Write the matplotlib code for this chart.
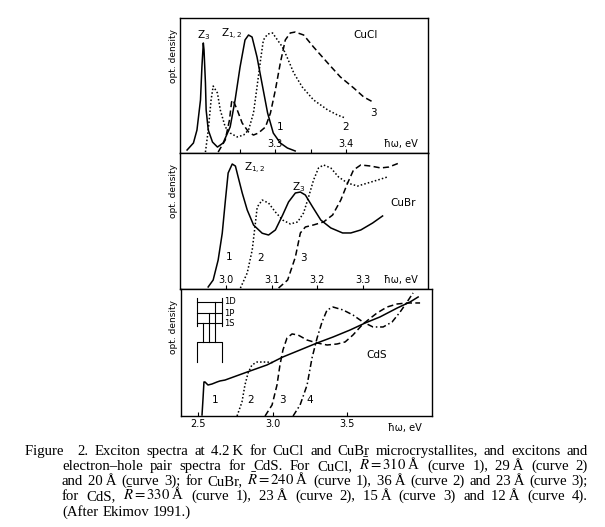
import numpy as np
import matplotlib.pyplot as plt

# ========== DATA ==========
# CuCl, curves 1-3
cucl_x1 = [3.175, 3.184, 3.189, 3.194, 3.196, 3.198, 3.199, 3.201, 3.202, 3.205, 3.211, 3.218, 3.226,
           3.236, 3.243, 3.250, 3.257, 3.262, 3.267, 3.274, 3.282, 3.289, 3.297, 3.307, 3.317, 3.328]
cucl_y1 = [0.022, 0.074, 0.170, 0.393, 0.637, 0.815, 0.763, 0.519, 0.319, 0.170, 0.081, 0.044, 0.074,
           0.193, 0.393, 0.637, 0.837, 0.874, 0.859, 0.711, 0.489, 0.296, 0.148, 0.074, 0.037, 0.015]
cucl_x2 = [3.201, 3.205, 3.209, 3.212, 3.218, 3.222, 3.229, 3.236, 3.246, 3.255, 3.262, 3.269, 3.274,
           3.279, 3.283, 3.289, 3.296, 3.303, 3.310, 3.317, 3.326, 3.338, 3.354, 3.374, 3.388, 3.399]
cucl_y2 = [0.007, 0.170, 0.393, 0.496, 0.444, 0.319, 0.193, 0.148, 0.119, 0.133, 0.170, 0.296, 0.489,
           0.689, 0.837, 0.881, 0.889, 0.837, 0.785, 0.704, 0.593, 0.489, 0.393, 0.319, 0.281, 0.259]
cucl_x3 = [3.219, 3.229, 3.235, 3.238, 3.240, 3.246, 3.253, 3.262, 3.269, 3.276, 3.286, 3.293,
           3.300, 3.307, 3.314, 3.321, 3.328, 3.340, 3.354, 3.374, 3.392, 3.411, 3.425, 3.438]
cucl_y3 = [0.007, 0.096, 0.244, 0.378, 0.393, 0.319, 0.222, 0.156, 0.133, 0.148, 0.193, 0.296,
           0.467, 0.667, 0.837, 0.889, 0.896, 0.874, 0.785, 0.667, 0.563, 0.481, 0.415, 0.378]

# CuBr, curves 1-3
cubr_x1 = [2.960, 2.971, 2.982, 2.991, 2.998, 3.004, 3.013, 3.020, 3.026, 3.035, 3.046, 3.060, 3.079, 3.093,
           3.108, 3.124, 3.137, 3.152, 3.163, 3.174, 3.190, 3.208, 3.230, 3.256, 3.274, 3.296, 3.322, 3.344]
cubr_y1 = [0.015, 0.066, 0.213, 0.410, 0.654, 0.853, 0.919, 0.904, 0.824, 0.706, 0.581, 0.470, 0.410, 0.397,
           0.434, 0.544, 0.640, 0.706, 0.713, 0.691, 0.603, 0.507, 0.449, 0.412, 0.412, 0.434, 0.485, 0.537]
cubr_x2 = [3.031, 3.046, 3.057, 3.064, 3.068, 3.079, 3.093, 3.108, 3.124, 3.141, 3.157, 3.170,
           3.181, 3.192, 3.203, 3.214, 3.230, 3.247, 3.267, 3.289, 3.311, 3.333, 3.355]
cubr_y2 = [0.007, 0.118, 0.287, 0.485, 0.603, 0.654, 0.632, 0.566, 0.507, 0.478, 0.493, 0.559,
           0.676, 0.801, 0.890, 0.912, 0.890, 0.824, 0.779, 0.757, 0.779, 0.801, 0.824]
cubr_x3 = [3.115, 3.135, 3.152, 3.163, 3.174, 3.192, 3.214, 3.234, 3.252, 3.267, 3.280, 3.296,
           3.318, 3.340, 3.358, 3.380]
cubr_y3 = [0.007, 0.066, 0.235, 0.412, 0.456, 0.471, 0.493, 0.544, 0.654, 0.779, 0.875, 0.912,
           0.904, 0.890, 0.897, 0.926]

# CdS, curves 1-4
cds_x1 = [2.527, 2.534, 2.540, 2.547, 2.567, 2.594, 2.628, 2.648, 2.681, 2.829, 2.963,
          3.070, 3.185, 3.299, 3.406, 3.520, 3.621, 3.721, 3.836, 3.923, 3.977]
cds_y1 = [0.008, 0.142, 0.268, 0.268, 0.244, 0.252, 0.268, 0.276, 0.283, 0.346, 0.402,
          0.465, 0.520, 0.575, 0.622, 0.677, 0.732, 0.780, 0.850, 0.898, 0.937]
cds_x2 = [2.762, 2.795, 2.815, 2.836, 2.862, 2.896, 2.963, 3.003]
cds_y2 = [0.000, 0.110, 0.244, 0.339, 0.402, 0.425, 0.425, 0.420]
cds_x3 = [2.950, 2.997, 3.030, 3.050, 3.070, 3.097, 3.131, 3.171, 3.232, 3.299, 3.366,
          3.433, 3.487, 3.540, 3.601, 3.641, 3.701, 3.768, 3.836, 3.903, 3.990]
cds_y3 = [0.000, 0.087, 0.244, 0.402, 0.520, 0.614, 0.646, 0.638, 0.598, 0.575, 0.559,
          0.567, 0.583, 0.638, 0.717, 0.756, 0.811, 0.858, 0.882, 0.890, 0.890]
cds_x4 = [3.138, 3.185, 3.232, 3.265, 3.299, 3.332, 3.366, 3.406, 3.473, 3.540, 3.607,
          3.674, 3.742, 3.802, 3.856, 3.903, 3.943]
cds_y4 = [0.000, 0.087, 0.244, 0.457, 0.614, 0.740, 0.835, 0.858, 0.835, 0.795, 0.740,
          0.701, 0.701, 0.740, 0.819, 0.898, 0.969]

cucl_ticks = [3.25, 3.3, 3.35, 3.4]
cucl_ticklabels = ["", "3.3", "", "3.4"]
cubr_ticks = [3.0, 3.1, 3.2, 3.3]
cubr_ticklabels = ["3.0", "3.1", "3.2", "3.3"]
cds_ticks = [2.5, 3.0, 3.5]
cds_ticklabels = ["2.5", "3.0", "3.5"]

caption_lines = [
    "Figure\u2002 2. Exciton spectra at 4.2\u2009K for CuCl and CuBr microcrystallites, and excitons and",
    "electron\u2013hole pair spectra for CdS. For CuCl, $\\bar{R}=310$\u2009Å (curve 1), 29\u2009Å (curve 2)",
    "and 20\u2009Å (curve 3); for CuBr, $\\bar{R}=240$\u2009Å (curve 1), 36\u2009Å (curve 2) and 23\u2009Å (curve 3);",
    "for CdS, $\\bar{R}=330$\u2009Å (curve 1), 23\u2009Å (curve 2), 15\u2009Å (curve 3) and 12\u2009Å (curve 4).",
    "(After Ekimov 1991.)",
]

# ========== STYLE ==========
plt.rcParams['font.family'] = ['DejaVu Sans']
plt.rcParams['mathtext.fontset'] = 'stix'
LW = 1.1
SOLID = '-'
DOT = (0, (1, 1.4))
DASH = (0, (4, 2.2))
DASHDOT = (0, (4, 1.8, 1, 1.8))
FS = 7.5
W, H = 605, 527


def panel(top, bottom, left=180, right=428):
    return [left / W, 1 - bottom / H, (right - left) / W, (bottom - top) / H]


fig = plt.figure(figsize=(W / 100, H / 100), dpi=100)
ax1 = fig.add_axes(panel(18, 153))
ax2 = fig.add_axes(panel(153, 289))
ax3 = fig.add_axes(panel(289, 416, 181, 432))

for ax in (ax1, ax2, ax3):
    ax.set_ylim(0, 1)
    ax.set_yticks([])
    for s in ax.spines.values():
        s.set_linewidth(1.0)
    ax.tick_params(axis='x', direction='in', length=3, width=0.8, top=False)

# ---- CuCl ----
ax1.set_xlim(3.165, 3.516)
ax1.plot(cucl_x1, cucl_y1, color='k', lw=LW, ls=SOLID)
ax1.plot(cucl_x2, cucl_y2, color='k', lw=LW, ls=DOT)
ax1.plot(cucl_x3, cucl_y3, color='k', lw=LW, ls=DASH)
ax1.set_xticks(cucl_ticks)
ax1.set_xticklabels([])
for t, lab in zip(cucl_ticks, cucl_ticklabels):
    ax1.text(t, 0.067, lab, transform=ax1.get_xaxis_transform(), ha='center', va='center', fontsize=7)
ax1.text(3.477, 0.067, "ħω, eV", transform=ax1.get_xaxis_transform(), ha='center', va='center', fontsize=7)
ax1.text(3.198, 0.874, "$\\mathregular{Z_3}$", ha='center', va='center', fontsize=FS)
ax1.text(3.238, 0.88, "$\\mathregular{Z_{1,2}}$", ha='center', va='center', fontsize=FS)
ax1.text(3.428, 0.874, "CuCl", ha='center', va='center', fontsize=FS)
ax1.text(3.307, 0.193, "1", ha='center', va='center', fontsize=FS)
ax1.text(3.399, 0.193, "2", ha='center', va='center', fontsize=FS)
ax1.text(3.439, 0.296, "3", ha='center', va='center', fontsize=FS)

# ---- CuBr ----
ax2.set_xlim(2.898, 3.444)
ax2.plot(cubr_x1, cubr_y1, color='k', lw=LW, ls=SOLID)
ax2.plot(cubr_x2, cubr_y2, color='k', lw=LW, ls=DOT)
ax2.plot(cubr_x3, cubr_y3, color='k', lw=LW, ls=DASH)
ax2.set_xticks(cubr_ticks)
ax2.set_xticklabels([])
for t, lab in zip(cubr_ticks, cubr_ticklabels):
    ax2.text(t, 0.066, lab, transform=ax2.get_xaxis_transform(), ha='center', va='center', fontsize=7)
ax2.text(3.384, 0.066, "ħω, eV", transform=ax2.get_xaxis_transform(), ha='center', va='center', fontsize=7)
ax2.text(3.062, 0.89, "$\\mathregular{Z_{1,2}}$", ha='center', va='center', fontsize=FS)
ax2.text(3.16, 0.75, "$\\mathregular{Z_3}$", ha='center', va='center', fontsize=FS)
ax2.text(3.389, 0.632, "CuBr", ha='center', va='center', fontsize=FS)
ax2.text(3.007, 0.235, "1", ha='center', va='center', fontsize=FS)
ax2.text(3.075, 0.228, "2", ha='center', va='center', fontsize=FS)
ax2.text(3.170, 0.228, "3", ha='center', va='center', fontsize=FS)

# ---- CdS ----
ax3.set_xlim(2.386, 4.070)
ax3.plot(cds_x1, cds_y1, color='k', lw=LW, ls=SOLID)
ax3.plot(cds_x2, cds_y2, color='k', lw=LW, ls=DOT)
ax3.plot(cds_x3, cds_y3, color='k', lw=LW, ls=DASH)
ax3.plot(cds_x4, cds_y4, color='k', lw=LW, ls=DASHDOT)
ax3.set_xticks(cds_ticks)
ax3.set_xticklabels(cds_ticklabels, fontsize=7)
ax3.tick_params(axis='x', pad=2)
ax3.text(3.889, -0.094, "ħω, eV", transform=ax3.get_xaxis_transform(), ha='center', va='center', fontsize=7)
ax3.text(3.701, 0.48, "CdS", ha='center', va='center', fontsize=FS)
for xl, lab in zip([2.614, 2.856, 3.064, 3.252], ["1", "2", "3", "4"]):
    ax3.text(xl, 0.126, lab, ha='center', va='center', fontsize=FS)

# energy level sketch (axes fraction)
tr = ax3.transAxes
kw = dict(color='k', lw=0.8, transform=tr)
bx0, bx1 = 0.063, 0.163
levels = {"1D": 0.898, "1P": 0.811, "1S": 0.732}
ax3.plot([bx0, bx0], [0.93, 0.709], **kw)
ax3.plot([bx1, bx1], [0.93, 0.709], **kw)
for name, ly in levels.items():
    ax3.plot([bx0, bx1], [ly, ly], **kw)
    ax3.text(bx1 + 0.008, ly, name, transform=tr, ha='left', va='center', fontsize=6)
vb = 0.583
ax3.plot([bx0, bx0, bx1, bx1], [0.425, vb, vb, 0.425], **kw)
for tx, name in zip([0.087, 0.113, 0.137], ["1S", "1P", "1D"]):
    ax3.plot([tx, tx], [vb, levels[name]], **kw)

# ylabels
for top in (18, 153, 289):
    fig.text(173 / W, 1 - (top + 38) / H, "opt. density", rotation=90, ha='center', va='center', fontsize=6.5)

# ========== CAPTION (justified) ==========
renderer = fig.canvas.get_renderer()
cap_kw = dict(fontsize=10.6, family='Liberation Serif', va='baseline', ha='left')
baselines = [455, 470, 485, 500, 516]
for i, (line, base) in enumerate(zip(caption_lines, baselines)):
    x0 = 25 if i == 0 else 62
    x1 = 588
    words = [w for w in line.split(" ") if w != ""]
    texts = [fig.text(0, 1 - base / H, w, **cap_kw) for w in words]
    widths = [t.get_window_extent(renderer).width for t in texts]
    if i == len(caption_lines) - 1:
        gap = 4.0
    else:
        gap = (x1 - x0 - sum(widths)) / (len(texts) - 1)
    x = x0
    for t, wd in zip(texts, widths):
        t.set_x(x / W)
        x += wd + gap

fig.savefig("out.png", dpi=100)
